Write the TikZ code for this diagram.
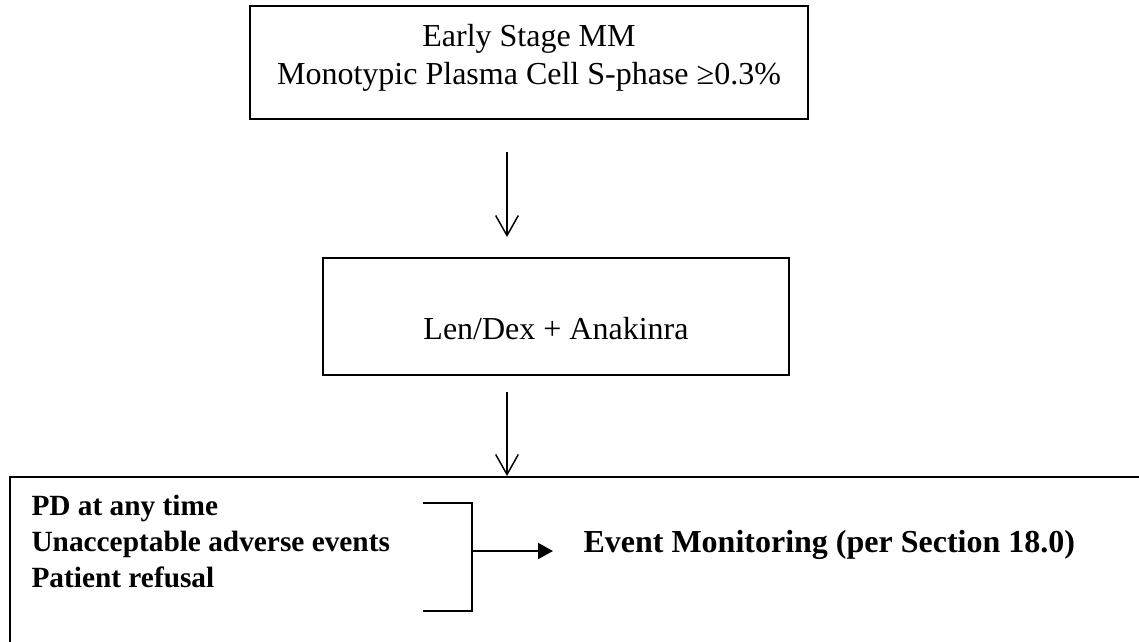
\documentclass[tikz,border=0pt]{standalone}
\usepackage{fontspec}
\setmainfont{Liberation Serif}
\usetikzlibrary{arrows.meta,fit}
\tikzstyle{boxframe}=[draw, line width=0.8pt, inner sep=0pt]
\tikzstyle{arr}=[-{Straight Barb[length=7.5pt, width=8.5pt]}, line width=0.55pt]
\tikzstyle{fillarr}=[-{Triangle[length=5.6pt, width=6pt]}, line width=0.6pt]

\begin{document}
\begin{tikzpicture}[x=0.375pt, y=-0.375pt, black]
\useasboundingbox (0,0) rectangle (1139,641);
\clip (0,0) rectangle (1139,641);
% Boxes
    \node[boxframe, fit={(250,6) (808,119)}] (stage) {};
    \node[boxframe, fit={(323,258) (789,375)}] (treat) {};
    \node[boxframe, fit={(10,477) (1170,690)}] (offstudy) {};
% Texts
    \node[align=center, font=\fontsize{12}{14.25}\selectfont] (stagetxt) at (529,58) {Early Stage MM\\Monotypic Plasma Cell S-phase ≥0.3\%};
    \node[font=\fontsize{12}{14}\selectfont] (treattxt) at (556,329) {Len/Dex + Anakinra};
    \node[anchor=north west, align=left, inner sep=0pt, font=\bfseries\fontsize{11}{13.5}\selectfont] (reasons) at (31,495) {PD at any time\\Unacceptable adverse events\\Patient refusal};
    \node[anchor=base west, inner sep=0pt, font=\bfseries\fontsize{12}{14}\selectfont] (events) at (583,552) {Event Monitoring (per Section 18.0)};
% Arrows
    \coordinate (a1from) at (507,152);
    \coordinate (a1to) at (507,237);
    \coordinate (a2from) at (507,392);
    \draw[arr] (a1from) -- (a1to);
    \draw[arr] (a2from) -- (a2from |- offstudy.north);
% Bracket
    \coordinate (brtop) at (423,503);
    \coordinate (brbot) at (423,611);
    \coordinate (brmid) at (472,551);
    \coordinate (brtip) at (553,551);
    \draw[line width=0.6pt] (brtop) -| (brbot -| brmid) -- (brbot);
    \draw[fillarr] (brmid) -- (brtip);
\end{tikzpicture}
\end{document}
